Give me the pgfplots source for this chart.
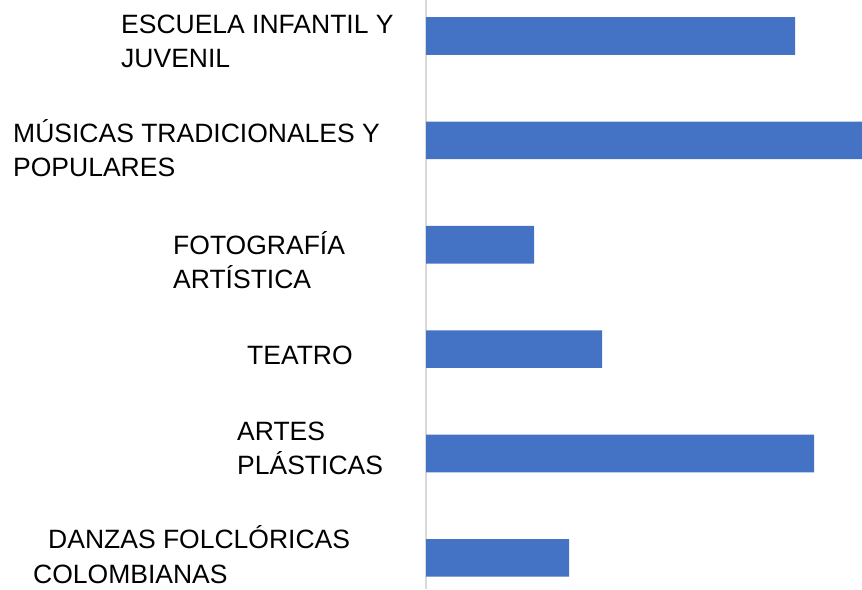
\documentclass[border=0pt]{standalone}
\usepackage{pgfplots}
\pgfplotsset{compat=1.18}
\usepackage{fontspec}
\setmainfont{Liberation Sans}
\definecolor{barblue}{HTML}{4472C4}
\definecolor{axisgray}{HTML}{D9D9D9}
\begin{document}
\begin{tikzpicture}[x=1pt,y=1pt]
\path[use as bounding box] (-426,0) rectangle (436,589);
\begin{axis}[
  at={(0,0)}, anchor=south west,
  scale only axis, width=436pt, height=589pt,
  xmin=0, xmax=436, ymin=-0.298, ymax=5.345,
  axis x line=none,
  axis y line*=left,
  y axis line style={draw=axisgray, line width=2pt},
  xtick=\empty, ytick=\empty,
  xbar, bar width=0.361,
  clip=false,
]
\addplot[fill=barblue, draw=none, bar shift=0pt] coordinates {
  (143,0) (388,1) (176,2) (108,3) (436,4) (369,5)
};
\end{axis}
\begin{scope}[every node/.style={anchor=base west, inner sep=0pt, font=\fontsize{26.5pt}{34pt}\selectfont}]
\node at (121-426, 589-34) {ESCUELA INFANTIL Y};
\node at (121-426, 589-68) {JUVENIL};
\node at (13-426, 589-143) {MÚSICAS TRADICIONALES Y};
\node at (13-426, 589-177) {POPULARES};
\node at (173-426, 589-255) {FOTOGRAFÍA};
\node at (173-426, 589-289) {ARTÍSTICA};
\node at (247-426, 589-365) {TEATRO};
\node at (237-426, 589-441) {ARTES};
\node at (237-426, 589-475) {PLÁSTICAS};
\node at (48-426, 589-549) {DANZAS FOLCLÓRICAS};
\node at (33-426, 589-584) {COLOMBIANAS};
\end{scope}
\end{tikzpicture}
\end{document}
